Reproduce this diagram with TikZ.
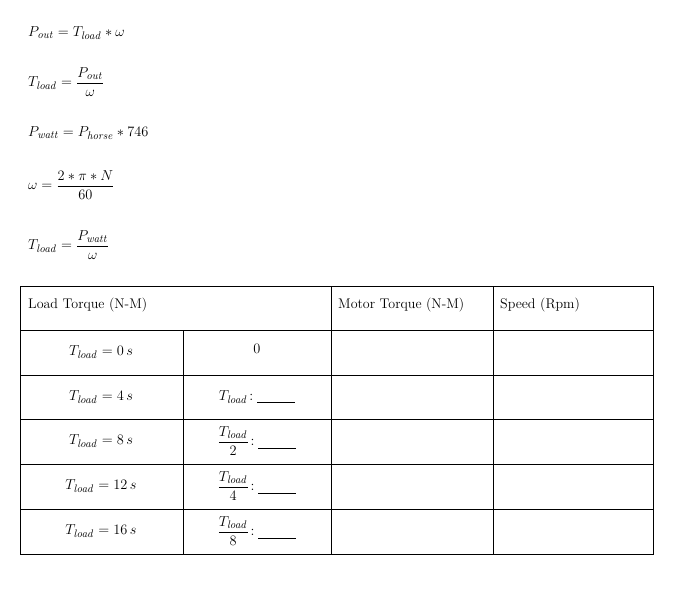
\documentclass[tikz,border=0pt]{standalone}
\usepackage{amsmath}
\begin{document}
\begin{tikzpicture}[x=1pt,y=-1pt,
  eq/.style={anchor=west,inner sep=0pt,font=\fontsize{15}{18}\selectfont},
  cell/.style={inner sep=0pt,font=\fontsize{15}{18}\selectfont},
  head/.style={inner sep=0pt,anchor=west,font=\fontsize{14}{17}\selectfont},
  grid/.style={draw=black,line width=0.9pt}]
\useasboundingbox (0,0) rectangle (678,606);
\newcommand{\Tl}{T_{\mathit{load}}}
\node[eq] (e1) at (28,33) {$P_{\mathit{out}}=\Tl*\omega$};
\node[eq] (e2) at (28,82) {$\Tl=\dfrac{P_{\mathit{out}}}{\omega}$};
\node[eq] (e3) at (28,133) {$P_{\mathit{watt}}=P_{\mathit{horse}}*746$};
\node[eq] (e4) at (28,185) {$\omega=\dfrac{2*\pi*N}{60}$};
\node[eq] (e5) at (28,245) {$\Tl=\dfrac{P_{\mathit{watt}}}{\omega}$};
% table
\draw[grid] (20,286) rectangle (653,554);
\foreach \y in {330,375,419,464,509} \draw[grid] (20,\y) -- (653,\y);
\draw[grid] (183,330) -- (183,554);
\draw[grid] (331,286) -- (331,554);
\draw[grid] (493,286) -- (493,554);
\node[head] (h1) at (28,305) {Load Torque (N-M)};
\node[head] (h2) at (338,305) {Motor Torque (N-M)};
\node[head] (h3) at (500,305) {Speed (Rpm)};
\node[cell] (r1) at (101,352) {$\Tl=0\,s$};
\node[cell] (r2) at (101,397) {$\Tl=4\,s$};
\node[cell] (r3) at (101,441) {$\Tl=8\,s$};
\node[cell] (r4) at (101,486) {$\Tl=12\,s$};
\node[cell] (r5) at (101,531) {$\Tl=16\,s$};
\node[cell] (v1) at (257,349) {$0$};
\node[cell] (v2) at (257,397) {$\Tl\!:\underline{\hspace{38pt}}$};
\node[cell] (v3) at (257,441) {$\dfrac{\Tl}{2}\!:\underline{\hspace{38pt}}$};
\node[cell] (v4) at (257,486) {$\dfrac{\Tl}{4}\!:\underline{\hspace{38pt}}$};
\node[cell] (v5) at (257,531) {$\dfrac{\Tl}{8}\!:\underline{\hspace{38pt}}$};
\end{tikzpicture}
\end{document}
